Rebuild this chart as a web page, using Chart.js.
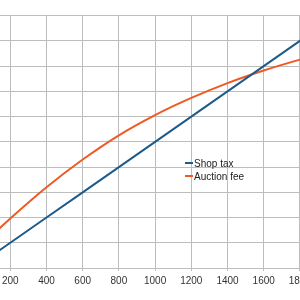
<!DOCTYPE html>
<html lang="en">
<head>
    <meta charset="UTF-8" />
    <title>Shop tax vs auction fee</title>
    <style>
        * {
            margin: 0;
            padding: 0;
        }

        body {
            width: 300px;
            height: 300px;
            overflow: hidden;
            background: #ffffff;
            position: relative;
            font-family: "Liberation Sans", Arial, sans-serif;
        }

        .chartBox {
            position: absolute;
            left: -60px;
            top: 0;
            width: 420px;
            height: 300px;
        }

        .legend {
            position: absolute;
            left: 185px;
            top: 157px;
            font-size: 10px;
            color: #222;
            line-height: 13px;
        }

        .legend span.key {
            display: inline-block;
            width: 8px;
            height: 2px;
            vertical-align: middle;
            margin-right: 1px;
            margin-top: -2px;
        }
    </style>
</head>
<body>
    <div class="chartBox">
        <canvas id="myChart"></canvas>
    </div>
    <div class="legend">
        <div><span class="key" style="background:#1d5b8c"></span>Shop tax</div>
        <div><span class="key" style="background:#ef5a24"></span>Auction fee</div>
    </div>
    <script src="https://cdn.jsdelivr.net/npm/chart.js@4"></script>
    <script>
        const prices = [0, 200, 400, 600, 800, 1000, 1200, 1400, 1600, 1800, 2000];
        const shopTax = [0, 10, 20, 30, 40, 50, 60, 70, 80, 90, 100];
        const auctionFee = [6.2, 19.6, 32, 43, 52.6, 60.6, 67.4, 73.3, 78.3, 82.6, 86.5];

        const gridColor = "#bdbdbd";

        const data = {
            datasets: [
                {
                    label: "Shop tax",
                    data: prices.map((p, i) => ({ x: p, y: shopTax[i] })),
                    borderColor: "#1d5b8c",
                    borderWidth: 2,
                    pointRadius: 0,
                },
                {
                    label: "Auction fee",
                    data: prices.map((p, i) => ({ x: p, y: auctionFee[i] })),
                    borderColor: "#ef5a24",
                    borderWidth: 2,
                    pointRadius: 0,
                    cubicInterpolationMode: "monotone",
                },
            ],
        };

        const options = {
            responsive: true,
            maintainAspectRatio: false,
            animation: false,
            layout: {
                padding: { top: 15.7, bottom: 9, left: 34.1, right: 23.9 },
            },
            scales: {
                x: {
                    type: "linear",
                    min: 0,
                    max: 2000,
                    grid: {
                        color: gridColor,
                        tickLength: 3,
                    },
                    border: { color: gridColor },
                    ticks: {
                        stepSize: 200,
                        padding: 4,
                        color: "#333",
                        maxRotation: 0,
                        font: { family: "'Liberation Sans', Arial, sans-serif", size: 10 },
                        callback: function (value) {
                            return String(value);
                        },
                    },
                },
                y: {
                    min: 0,
                    max: 100,
                    grid: {
                        color: gridColor,
                        drawTicks: false,
                    },
                    border: { display: false },
                    ticks: {
                        stepSize: 10,
                        display: false,
                    },
                },
            },
            plugins: {
                legend: { display: false },
                tooltip: { enabled: false },
            },
        };

        const ctx = document.getElementById("myChart").getContext("2d");
        const myChart = new Chart(ctx, {
            type: "line",
            data: data,
            options: options,
        });
    </script>
</body>
</html>
